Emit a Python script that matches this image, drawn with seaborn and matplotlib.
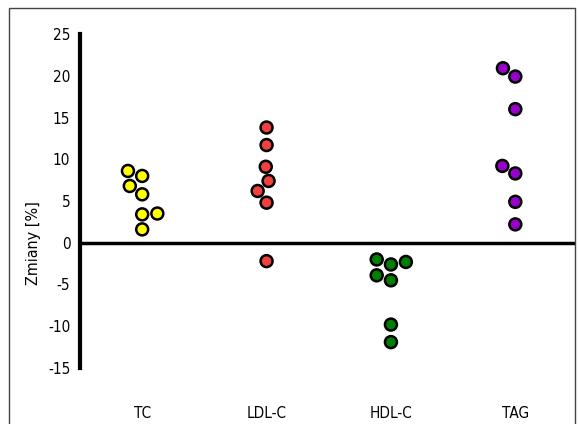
import pandas as pd
import matplotlib.pyplot as plt
import seaborn as sns
from matplotlib.patches import Rectangle

# values (percent change)
categories = ["TC", "LDL-C", "HDL-C", "TAG"]
tc = [6.8, 8.6, 8.0, 5.8, 3.5, 3.4, 1.6]
ldl = [13.8, 11.7, 9.1, 7.4, 6.2, 4.8, -2.2]
hdl = [-2.3, -2.0, -2.6, -3.9, -4.5, -9.8, -11.9]
tag = [20.9, 19.9, 16.0, 9.2, 8.3, 4.9, 2.2]
colors = ["#ffff00", "#f23f3f", "#007f00", "#9900cc"]

df = pd.DataFrame({
    "grupa": sum([[c] * 7 for c in categories], []),
    "zmiana": tc + ldl + hdl + tag,
})

sns.set_style("white")
plt.rcParams["font.family"] = ["DejaVu Sans"]
plt.rcParams["font.stretch"] = "condensed"
plt.rcParams["axes.unicode_minus"] = False

fig = plt.figure(figsize=(5.8, 4.24), dpi=100)
ax = fig.add_axes([80 / 580, 1 - 368 / 424, 495 / 580, 334 / 424])

sns.swarmplot(data=df, x="grupa", y="zmiana", hue="grupa", order=categories,
              palette=colors, size=8.6, edgecolor="black", linewidth=1.8,
              legend=False, ax=ax, zorder=3)

ax.axhline(0, color="black", linewidth=2.5, zorder=2)
ax.set_ylim(-15, 25)
ax.set_xlim(-0.5, 3.48)
ax.set_yticks(range(-15, 30, 5))

for s in ["top", "right", "bottom"]:
    ax.spines[s].set_visible(False)
ax.spines["left"].set_linewidth(3)
ax.spines["left"].set_color("black")
ax.tick_params(axis="y", length=5, width=3, labelsize=11, pad=2,
               color="black", labelcolor="black")
ax.tick_params(axis="x", length=0, labelsize=11, pad=27, labelcolor="black")

ax.set_xlabel("")
ax.set_ylabel("Zmiany [%]", fontsize=11.5, color="black")
ax.yaxis.set_label_coords(-0.078, 0.375)

# thin frame round the picture
fig.patches.append(Rectangle((9 / 580, -0.05), 566 / 580, 1 - 8 / 424 + 0.05,
                             transform=fig.transFigure, fill=False,
                             edgecolor="#444444", linewidth=1))

plt.savefig("out.png", dpi=100)
